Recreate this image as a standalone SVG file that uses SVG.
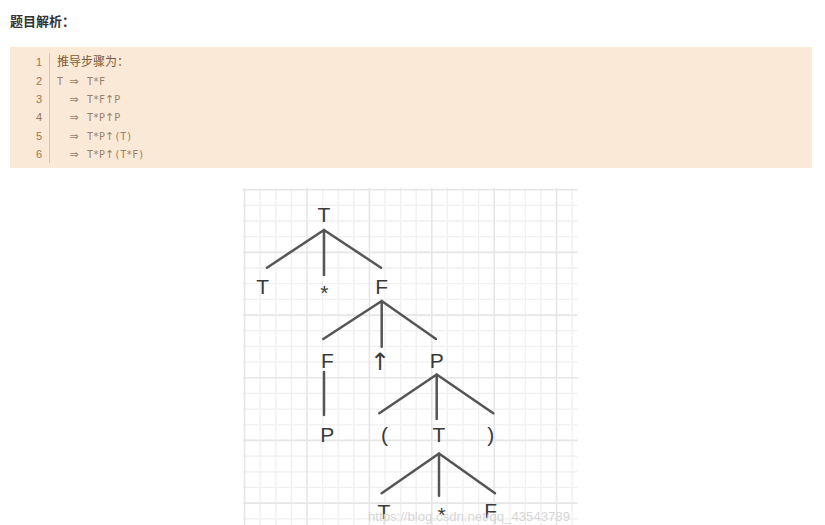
<svg xmlns="http://www.w3.org/2000/svg" width="825" height="525" viewBox="0 0 825 525">
<style>
.hdr{font-family:"Liberation Sans","Noto Sans CJK SC",sans-serif;font-size:13px;font-weight:bold;fill:#333}
.ln{font-family:"Liberation Sans",sans-serif;font-size:11px;fill:#9a7650;text-anchor:end}
.cn{font-family:"Liberation Sans","Noto Sans CJK SC",sans-serif;font-size:12px;fill:#7a5a3a}
.cd{font-family:"DejaVu Sans Mono","Liberation Mono",monospace;font-size:10px;fill:#9a8068}
.ar{font-family:"DejaVu Sans",sans-serif;font-size:11px}
.mn{fill:none;stroke:#f0f0f0;stroke-width:1.3}
.mj{fill:none;stroke:#e6e6e6;stroke-width:1.6}
.t{font-family:"Liberation Sans",Arial,sans-serif;font-size:21px;fill:#3a3a3a;text-anchor:middle}
.e{fill:none;stroke:#555;stroke-width:2.5;stroke-linecap:round}
.wm{font-family:"Liberation Sans",Arial,sans-serif;font-size:13.5px;fill:#d6d6d6}
</style>
<rect width="825" height="525" fill="#fff"/>
<text class="hdr" x="10" y="26">题目解析：</text>
<rect x="10" y="47" width="802" height="121" fill="#fae9d6"/>
<line x1="49.5" y1="53" x2="49.5" y2="163" stroke="#d9c6b2" stroke-width="1"/>
<g>
<text class="ln" x="42" y="66">1</text>
<text class="ln" x="42" y="85">2</text>
<text class="ln" x="42" y="103">3</text>
<text class="ln" x="42" y="121">4</text>
<text class="ln" x="42" y="140">5</text>
<text class="ln" x="42" y="158">6</text>
</g>
<text class="cn" x="57" y="66">推导步骤为：</text>
<text class="cd" y="85"><tspan x="57">T</tspan><tspan class="ar" x="69.5">⇒</tspan><tspan x="87">T*F</tspan></text>
<text class="cd" y="103"><tspan class="ar" x="69.5">⇒</tspan><tspan x="87">T*F</tspan><tspan class="ar">↑</tspan><tspan>P</tspan></text>
<text class="cd" y="121"><tspan class="ar" x="69.5">⇒</tspan><tspan x="87">T*P</tspan><tspan class="ar">↑</tspan><tspan>P</tspan></text>
<text class="cd" y="140"><tspan class="ar" x="69.5">⇒</tspan><tspan x="87">T*P</tspan><tspan class="ar">↑</tspan><tspan>(T)</tspan></text>
<text class="cd" y="158"><tspan class="ar" x="69.5">⇒</tspan><tspan x="87">T*P</tspan><tspan class="ar">↑</tspan><tspan>(T*F)</tspan></text>

<g id="grid">
<rect x="243" y="187" width="335" height="338" fill="#fff"/>
<path class="mn" d="M260.2 188V525M275.8 188V525M291.4 188V525M322.6 188V525M338.2 188V525M353.8 188V525M385 188V525M400.6 188V525M416.2 188V525M447.4 188V525M463 188V525M478.6 188V525M509.8 188V525M525.4 188V525M541 188V525M572.2 188V525
M243 205.4H577.5M243 221H577.5M243 236.7H577.5M243 268H577.5M243 283.7H577.5M243 299.4H577.5M243 330.7H577.5M243 346.4H577.5M243 362.1H577.5M243 393.4H577.5M243 409.1H577.5M243 424.8H577.5M243 456.1H577.5M243 471.8H577.5M243 487.4H577.5M243 518.8H577.5"/>
<path class="mj" d="M244.6 188V525M307 188V525M369.4 188V525M431.8 188V525M494.2 188V525M556.6 188V525
M243 189.7H577.5M243 252.4H577.5M243 315.1H577.5M243 377.7H577.5M243 440.4H577.5M243 503.1H577.5"/>
</g>

<g id="connectors">
<path class="e" d="M324 230L267 267.7M324 230V275M324 230L381 267.7"/>
<path class="e" d="M381.7 301L323.3 339M381.7 301V346.7M381.7 301L436 339"/>
<path class="e" d="M324 372V415"/>
<path class="e" d="M436.7 374.5L379.3 413.3M436.7 374.5V419M436.7 374.5L493.3 413.3"/>
<path class="e" d="M439 453.5L381.7 493.3M439 453.5V495.7M439 453.5L495 493.3"/>
</g>

<g id="n-root-T"><text class="t" x="324" y="222">T</text></g>
<g id="n-T1"><text class="t" x="262.7" y="294">T</text></g>
<g id="n-star1"><text class="t" x="324.3" y="300">*</text></g>
<g id="n-F1"><text class="t" x="381.7" y="294">F</text></g>
<g id="n-F2"><text class="t" x="327.5" y="367.5">F</text></g>
<g id="n-up"><text class="t" x="380" y="370" style="font-family:'DejaVu Sans',sans-serif;font-size:24px">↑</text></g>
<g id="n-P1"><text class="t" x="436.7" y="367.5">P</text></g>
<g id="n-P2"><text class="t" x="327.3" y="442">P</text></g>
<g id="n-lp"><text class="t" x="384.5" y="441.5">(</text></g>
<g id="n-T2"><text class="t" x="439" y="442">T</text></g>
<g id="n-rp"><text class="t" x="490.7" y="441.5">)</text></g>
<g id="n-T3"><text class="t" x="384" y="518.5">T</text></g>
<g id="n-star2"><text class="t" x="441.7" y="522">*</text></g>
<g id="n-F3"><text class="t" x="490.7" y="517.5">F</text></g>

<text class="wm" x="368" y="521" textLength="202" lengthAdjust="spacingAndGlyphs">https://blog.csdn.net/qq_43543789</text>
</svg>
